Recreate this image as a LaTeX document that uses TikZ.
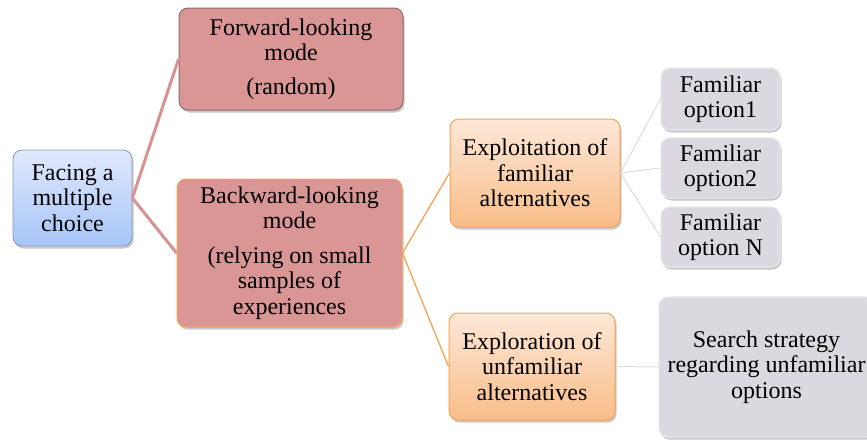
\documentclass[tikz,border=0pt]{standalone}
\usepackage{fontspec}
\setmainfont{Liberation Serif}
\usetikzlibrary{shadows}
\definecolor{pinkfill}{HTML}{D99694}
\definecolor{pinkline}{HTML}{D89292}
\definecolor{fwdborder}{HTML}{8A6E6E}
\definecolor{orangeline}{HTML}{F7A154}
\definecolor{orangetop}{HTML}{FDE8D8}
\definecolor{orangebot}{HTML}{F9BD88}
\definecolor{bluetop}{HTML}{E0E9FC}
\definecolor{bluebot}{HTML}{A6C5F8}
\definecolor{blueborder}{HTML}{8C9AB3}
\definecolor{greyfill}{HTML}{DBD9DF}
\definecolor{greyborder}{HTML}{E8E6EC}
\definecolor{lavline}{HTML}{DCD9E8}
\begin{document}
\begin{tikzpicture}[x=1pt,y=-1pt,
  box/.style={rounded corners=9pt, align=center, inner sep=0pt,
    font=\fontsize{24}{25.5}\selectfont,
    drop shadow={shadow xshift=1.5pt,shadow yshift=-2.5pt,opacity=0.3,fill=black!70}},
  bluebox/.style={box, draw=blueborder, line width=0.8pt, top color=bluetop, bottom color=bluebot},
  pinkbox/.style={box, fill=pinkfill, line width=1pt},
  orangebox/.style={box, draw=orangeline, line width=1pt, top color=orangetop, bottom color=orangebot},
  greybox/.style={box, fill=greyfill, draw=greyborder, line width=1.2pt},
  pinkconn/.style={draw=pinkline, line width=3pt},
  orangeconn/.style={draw=orangeline, line width=1.3pt},
  lavconn/.style={draw=lavline, line width=1pt},
]
\useasboundingbox (0,0) rectangle (867,439);
\clip (0,0) rectangle (867,439);

\node[bluebox, minimum width=119pt, minimum height=96pt] (choice) at (72.5,198) {Facing a\\multiple\\choice};
\node[pinkbox, draw=fwdborder, minimum width=224pt, minimum height=102pt] (fwd) at (291,59) {Forward-looking\\mode\\[8pt](random)};
\node[pinkbox, draw=orangeline, minimum width=225pt, minimum height=148pt] (bwd) at (289.5,253) {Backward-looking\\mode\\[9pt](relying on small\\samples of\\experiences};
\node[orangebox, minimum width=170pt, minimum height=108pt] (exploit) at (535,173) {Exploitation of\\familiar\\alternatives};
\node[orangebox, minimum width=166pt, minimum height=107pt] (explor) at (532,366.5) {Exploration of\\unfamiliar\\alternatives};
\node[greybox, minimum width=119pt, minimum height=62pt] (fam1) at (720.5,99) {Familiar\\option1};
\node[greybox, minimum width=119pt, minimum height=60pt] (fam2) at (720.5,168) {Familiar\\option2};
\node[greybox, minimum width=119pt, minimum height=60pt] (fam3) at (720.5,237) {Familiar\\option N};
\node[greybox, minimum width=215pt, minimum height=140pt] (search) at (766.5,367) {Search strategy\\regarding unfamiliar\\options};

\draw[pinkconn] (choice.east) -- (fwd.west);
\draw[pinkconn] (choice.east) -- (bwd.west);
\draw[orangeconn] (bwd.east) -- (exploit.west);
\draw[orangeconn] (bwd.east) -- (explor.west);
\draw[lavconn] (exploit.east) -- (fam1.west);
\draw[lavconn] (exploit.east) -- (fam2.west);
\draw[lavconn] (exploit.east) -- (fam3.west);
\draw[lavconn] (explor.east) -- (search.west);
\end{tikzpicture}
\end{document}
